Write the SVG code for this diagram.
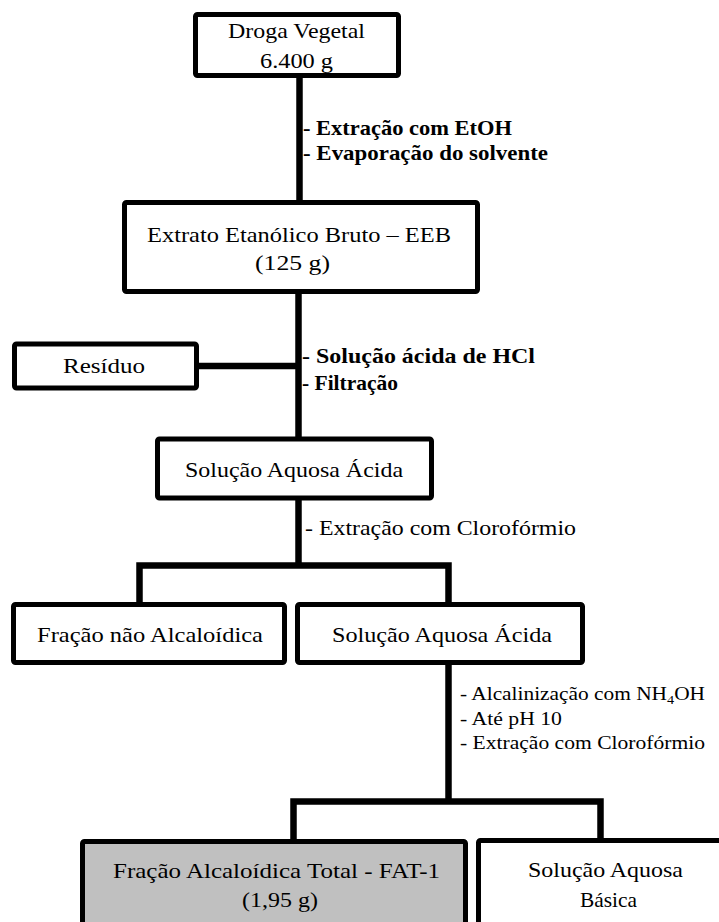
<svg xmlns="http://www.w3.org/2000/svg" width="719" height="922" viewBox="0 0 719 922">
<style>
.box{fill:#fff;stroke:#000;stroke-width:5}
.gray{fill:#c0c0c0;stroke:#000;stroke-width:5}
text{font-family:'Liberation Serif','DejaVu Serif',serif;fill:#000}
.t{font-size:21px}
.lb{font-size:21px;font-weight:bold}
.ln{font-size:21px}
.ls{font-size:18px}
.c{fill:none;stroke:#000;stroke-width:6.5;stroke-linejoin:miter}
</style>
<rect width="719" height="922" fill="#fff"/>
<g id="connectors">
<line class="c" x1="299.5" y1="76" x2="299.5" y2="202"/>
<line class="c" x1="298.5" y1="292" x2="298.5" y2="439"/>
<line class="c" x1="197" y1="366" x2="298.5" y2="366"/>
<line class="c" x1="298.5" y1="498" x2="298.5" y2="565.5"/>
<polyline class="c" points="139.5,604 139.5,565.5 448.5,565.5 448.5,604"/>
<line class="c" x1="448.5" y1="663" x2="448.5" y2="801.5"/>
<polyline class="c" points="293.5,841 293.5,801.5 600.5,801.5 600.5,841"/>
</g>
<g id="labels" font-family="Liberation Serif, DejaVu Serif, serif">
<text class="lb" x="303" y="135" textLength="209" lengthAdjust="spacingAndGlyphs">- Extração com EtOH</text>
<text class="lb" x="303" y="160" textLength="245" lengthAdjust="spacingAndGlyphs">- Evaporação do solvente</text>
<text class="lb" x="302" y="363" textLength="233" lengthAdjust="spacingAndGlyphs">- Solução ácida de HCl</text>
<text class="lb" x="302" y="390" textLength="96" lengthAdjust="spacingAndGlyphs">- Filtração</text>
<text class="ln" x="305" y="535" textLength="271" lengthAdjust="spacingAndGlyphs">- Extração com Clorofórmio</text>
<text class="ls" x="460" y="700" textLength="245" lengthAdjust="spacingAndGlyphs">- Alcalinização com NH<tspan font-size="12" dy="4">4</tspan><tspan dy="-4">OH</tspan></text>
<text class="ls" x="460" y="725" textLength="102" lengthAdjust="spacingAndGlyphs">- Até pH 10</text>
<text class="ls" x="460" y="749" textLength="245" lengthAdjust="spacingAndGlyphs">- Extração com Clorofórmio</text>
</g>
<g id="droga">
<rect class="box" x="195.5" y="14.5" width="203" height="61" rx="2"/>
<text class="t" x="228" y="38" textLength="137" lengthAdjust="spacingAndGlyphs">Droga Vegetal</text>
<text class="t" x="260" y="68" textLength="73" lengthAdjust="spacingAndGlyphs">6.400 g</text>
</g>
<g id="eeb">
<rect class="box" x="124.5" y="202.5" width="353" height="89" rx="2"/>
<text class="t" x="147" y="242" textLength="304" lengthAdjust="spacingAndGlyphs">Extrato Etanólico Bruto – EEB</text>
<text class="t" x="255" y="270" textLength="75" lengthAdjust="spacingAndGlyphs">(125 g)</text>
</g>
<g id="residuo">
<rect class="box" x="14.5" y="344" width="182" height="44" rx="2"/>
<text class="t" x="63" y="373" textLength="82" lengthAdjust="spacingAndGlyphs">Resíduo</text>
</g>
<g id="saa1">
<rect class="box" x="157.5" y="439" width="274" height="59" rx="2"/>
<text class="t" x="185" y="477" textLength="218" lengthAdjust="spacingAndGlyphs">Solução Aquosa Ácida</text>
</g>
<g id="fna">
<rect class="box" x="13.5" y="604.5" width="271" height="58" rx="2"/>
<text class="t" x="37" y="642" textLength="226" lengthAdjust="spacingAndGlyphs">Fração não Alcaloídica</text>
</g>
<g id="saa2">
<rect class="box" x="297.5" y="604.5" width="285" height="58" rx="2"/>
<text class="t" x="332" y="642" textLength="220" lengthAdjust="spacingAndGlyphs">Solução Aquosa Ácida</text>
</g>
<g id="fat">
<rect class="gray" x="82.5" y="841.5" width="383" height="100" rx="2"/>
<text class="t" x="113" y="878" textLength="327" lengthAdjust="spacingAndGlyphs">Fração Alcaloídica Total - FAT-1</text>
<text class="t" x="242" y="907" textLength="76" lengthAdjust="spacingAndGlyphs">(1,95 g)</text>
</g>
<g id="sab">
<rect class="box" x="478.5" y="840.5" width="260" height="100" rx="2"/>
<text class="t" x="528" y="877" textLength="155" lengthAdjust="spacingAndGlyphs">Solução Aquosa</text>
<text class="t" x="580" y="907" textLength="57" lengthAdjust="spacingAndGlyphs">Básica</text>
</g>
</svg>
